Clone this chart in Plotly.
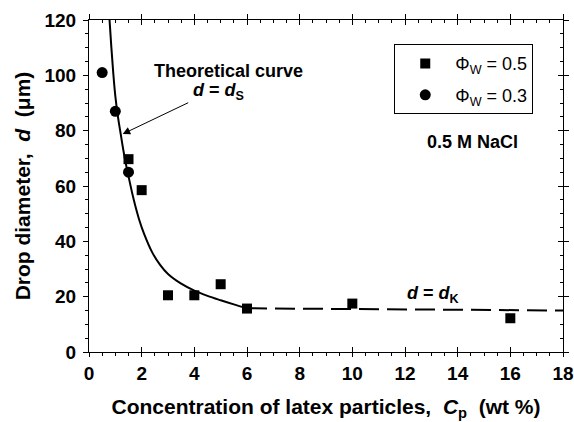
import plotly.graph_objects as go

# ---- data ----
sq_x = [1.5, 2.0, 3.0, 4.0, 5.0, 6.0, 10.0, 16.0]
sq_y = [69.7, 58.5, 20.5, 20.5, 24.5, 15.7, 17.5, 12.2]

ci_x = [0.5, 1.0, 1.5]
ci_y = [101.0, 87.0, 65.0]

curve_x = [0.78, 0.85, 0.92, 1.0, 1.1, 1.2, 1.35, 1.5, 1.7, 1.9, 2.1, 2.4, 2.7, 3.0, 3.5, 4.0, 4.5, 5.0, 5.5, 6.0]
curve_y = [120, 110, 101, 92.5, 85, 79, 70.5, 63.5, 55, 48, 42.5, 36, 31.5, 28.2, 24.7, 22.2, 20.3, 18.7, 17.2, 15.8]

dash_x = [6.0, 10.0, 14.0, 18.0]
dash_y = [15.8, 15.6, 15.3, 15.0]

x_ticks = [0, 2, 4, 6, 8, 10, 12, 14, 16, 18]
y_ticks = [0, 20, 40, 60, 80, 100, 120]

FONT = "Liberation Sans, Arial, sans-serif"
NB = "\u00a0"

fig = go.Figure()

fig.add_trace(go.Scatter(x=curve_x, y=curve_y, mode="lines", line=dict(color="black", width=2, shape="spline"),
                         showlegend=False, hoverinfo="skip"))
fig.add_trace(go.Scatter(x=dash_x, y=dash_y, mode="lines", line=dict(color="black", width=2, dash="20px,8px"),
                         showlegend=False, hoverinfo="skip"))
fig.add_trace(go.Scatter(x=sq_x, y=sq_y, mode="markers", name="Φ<sub>W</sub> = 0.5",
                         marker=dict(symbol="square", size=10, color="black"), legendgroup="a"))
fig.add_trace(go.Scatter(x=ci_x, y=ci_y, mode="markers", name="Φ<sub>W</sub> = 0.3",
                         marker=dict(symbol="circle", size=11, color="black"), legendgroup="b"))

# invisible helper traces that activate the extra tick-only axes
for xa, ya in [("x2", "y2"), ("x3", "y3"), ("x4", "y3")]:
    fig.add_trace(go.Scatter(x=sq_x, y=sq_y, xaxis=xa, yaxis=ya, mode="markers",
                             marker=dict(opacity=0), showlegend=False, hoverinfo="skip"))


def tick_axis(side, overlay, rng, vals, ticks, minor=None):
    d = dict(range=rng, overlaying=overlay, side=side, tickvals=vals, showticklabels=False,
             automargin=False, showgrid=False, zeroline=False, showline=False,
             ticks=ticks, ticklen=5, tickcolor="black")
    if minor:
        d["minor"] = dict(dtick=minor, ticks="inside", ticklen=3, tickcolor="black", showgrid=False)
    return d


fig.update_layout(
    width=574, height=422,
    margin=dict(l=89, r=11, t=20, b=70),
    paper_bgcolor="white", plot_bgcolor="white",
    font=dict(family=FONT, size=18, color="black"),
    showlegend=True,
    legend=dict(x=0.644, y=0.927, xanchor="left", yanchor="top",
                bordercolor="black", borderwidth=1, bgcolor="white",
                font=dict(size=18), itemwidth=50, tracegroupgap=5),
    xaxis=dict(range=[0, 18], tickvals=x_ticks, ticktext=[f"<b>{v}</b>" for v in x_ticks],
               automargin=False,
               showgrid=False, zeroline=False, showline=True, linecolor="black", linewidth=1,
               mirror=True, ticks="outside", ticklen=4, tickcolor="black",
               minor=dict(dtick=0.5, ticks="outside", ticklen=3, tickcolor="black", showgrid=False),
               tickfont=dict(size=19),
               title=dict(text=f"<b>Concentration of latex particles,{NB}{NB}<i>C</i><sub>p</sub>{NB}{NB}(wt %)</b>",
                          font=dict(size=21), standoff=16)),
    yaxis=dict(range=[0, 120], tickvals=y_ticks, ticktext=[f"<b>{v}</b>" for v in y_ticks],
               automargin=False,
               showgrid=False, zeroline=False, showline=True, linecolor="black", linewidth=1,
               mirror=True, ticks="outside", ticklen=5, tickcolor="black", ticklabelstandoff=3,
               minor=dict(dtick=5, ticks="outside", ticklen=3, tickcolor="black", showgrid=False),
               tickfont=dict(size=19),
               title=dict(text=f"<b>Drop diameter,{NB}{NB}<i>d</i>{NB}{NB}(μm)</b>",
                          font=dict(size=21), standoff=8)),
    xaxis2=tick_axis("top", "x", [0, 18], x_ticks, "inside", minor=0.5),
    xaxis3=tick_axis("bottom", "x", [0, 18], x_ticks, "inside"),
    xaxis4=tick_axis("top", "x", [0, 18], x_ticks, "outside"),
    yaxis2=tick_axis("right", "y", [0, 120], y_ticks, "inside", minor=5),
    yaxis3=tick_axis("right", "y", [0, 120], y_ticks, "outside"),
)

fig.add_annotation(x=5.28, y=101.6, text="<b>Theoretical curve</b>", showarrow=False,
                   font=dict(size=18))
fig.add_annotation(x=4.9, y=94.0, text="<b><i>d</i> = <i>d</i><sub>S</sub></b>", showarrow=False,
                   font=dict(size=18))
fig.add_annotation(x=1.28, y=78.8, ax=67, ay=-32, axref="pixel", ayref="pixel", text="",
                   showarrow=True, arrowhead=2, arrowsize=1.5, arrowwidth=1, arrowcolor="black")
fig.add_annotation(x=14.55, y=76.0, text="<b>0.5 M NaCl</b>", showarrow=False, font=dict(size=18))
fig.add_annotation(x=13.05, y=20.8, text="<b><i>d</i> = <i>d</i><sub>K</sub></b>", showarrow=False,
                   font=dict(size=18))

fig.write_html("out.html")
